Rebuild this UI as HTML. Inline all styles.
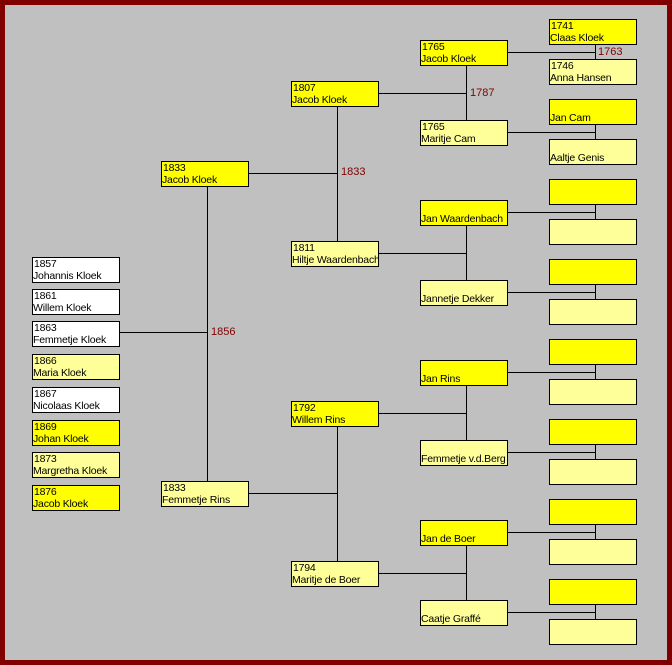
<!DOCTYPE html>
<html><head><meta charset="utf-8"><style>
body{margin:0;width:672px;height:665px;background:#800000;position:relative;overflow:hidden;font-family:"Liberation Sans",sans-serif;font-size:10.5px}
#bg{position:absolute;left:5px;top:5px;width:662px;height:655px;background:#c0c0c0}
.b{position:absolute;width:86px;height:24px;border:1px solid #000;line-height:12px;padding:0 0 0 0;text-indent:1px;box-sizing:content-box;white-space:nowrap;overflow:hidden;color:#000;letter-spacing:-0.2px}
.y{background:#ffff00}.l{background:#ffff99}.w{background:#fff}
.h{position:absolute;height:1px;background:#000}
.v{position:absolute;width:1px;background:#000}
.t{position:absolute;color:#800000;font-size:11px;line-height:12px}
</style></head><body><div id="bg"></div>
<div class="b w" style="left:32px;top:257px">1857<br>Johannis Kloek</div>
<div class="b w" style="left:32px;top:289px">1861<br>Willem Kloek</div>
<div class="b w" style="left:32px;top:321px">1863<br>Femmetje Kloek</div>
<div class="b l" style="left:32px;top:354px">1866<br>Maria Kloek</div>
<div class="b w" style="left:32px;top:387px">1867<br>Nicolaas Kloek</div>
<div class="b y" style="left:32px;top:420px">1869<br>Johan Kloek</div>
<div class="b l" style="left:32px;top:452px">1873<br>Margretha Kloek</div>
<div class="b y" style="left:32px;top:485px">1876<br>Jacob Kloek</div>
<div class="h" style="left:120px;top:332px;width:88px"></div>
<div class="v" style="left:207px;top:187px;height:294px"></div>
<div class="t" style="left:211px;top:326px">1856</div>
<div class="b y" style="left:161px;top:161px">1833<br>Jacob Kloek</div>
<div class="b l" style="left:161px;top:481px">1833<br>Femmetje Rins</div>
<div class="h" style="left:249px;top:173px;width:89px"></div>
<div class="v" style="left:337px;top:107px;height:134px"></div>
<div class="t" style="left:341px;top:166px">1833</div>
<div class="h" style="left:249px;top:493px;width:89px"></div>
<div class="v" style="left:337px;top:427px;height:134px"></div>
<div class="b y" style="left:291px;top:81px">1807<br>Jacob Kloek</div>
<div class="b l" style="left:291px;top:241px">1811<br>Hiltje Waardenbach</div>
<div class="b y" style="left:291px;top:401px">1792<br>Willem Rins</div>
<div class="b l" style="left:291px;top:561px">1794<br>Maritje de Boer</div>
<div class="h" style="left:379px;top:93px;width:88px"></div>
<div class="v" style="left:466px;top:66px;height:54px"></div>
<div class="t" style="left:470px;top:87px">1787</div>
<div class="h" style="left:379px;top:253px;width:88px"></div>
<div class="v" style="left:466px;top:226px;height:54px"></div>
<div class="h" style="left:379px;top:413px;width:88px"></div>
<div class="v" style="left:466px;top:386px;height:54px"></div>
<div class="h" style="left:379px;top:573px;width:88px"></div>
<div class="v" style="left:466px;top:546px;height:54px"></div>
<div class="b y" style="left:420px;top:40px">1765<br>Jacob Kloek</div>
<div class="b l" style="left:420px;top:120px">1765<br>Maritje Cam</div>
<div class="b y" style="left:420px;top:200px"><br>Jan Waardenbach</div>
<div class="b l" style="left:420px;top:280px"><br>Jannetje Dekker</div>
<div class="b y" style="left:420px;top:360px"><br>Jan Rins</div>
<div class="b l" style="left:420px;top:440px"><br>Femmetje v.d.Berg</div>
<div class="b y" style="left:420px;top:520px"><br>Jan de Boer</div>
<div class="b l" style="left:420px;top:600px"><br>Caatje Graffé</div>
<div class="h" style="left:508px;top:52px;width:88px"></div><div class="v" style="left:595px;top:45px;height:14px"></div>
<div class="t" style="left:598px;top:46px">1763</div>
<div class="h" style="left:508px;top:132px;width:88px"></div><div class="v" style="left:595px;top:125px;height:14px"></div>
<div class="h" style="left:508px;top:212px;width:88px"></div><div class="v" style="left:595px;top:205px;height:14px"></div>
<div class="h" style="left:508px;top:292px;width:88px"></div><div class="v" style="left:595px;top:285px;height:14px"></div>
<div class="h" style="left:508px;top:372px;width:88px"></div><div class="v" style="left:595px;top:365px;height:14px"></div>
<div class="h" style="left:508px;top:452px;width:88px"></div><div class="v" style="left:595px;top:445px;height:14px"></div>
<div class="h" style="left:508px;top:532px;width:88px"></div><div class="v" style="left:595px;top:525px;height:14px"></div>
<div class="h" style="left:508px;top:612px;width:88px"></div><div class="v" style="left:595px;top:605px;height:14px"></div>
<div class="b y" style="left:549px;top:19px">1741<br>Claas Kloek</div>
<div class="b l" style="left:549px;top:59px">1746<br>Anna Hansen</div>
<div class="b y" style="left:549px;top:99px"><br>Jan Cam</div>
<div class="b l" style="left:549px;top:139px"><br>Aaltje Genis</div>
<div class="b y" style="left:549px;top:179px"></div>
<div class="b l" style="left:549px;top:219px"></div>
<div class="b y" style="left:549px;top:259px"></div>
<div class="b l" style="left:549px;top:299px"></div>
<div class="b y" style="left:549px;top:339px"></div>
<div class="b l" style="left:549px;top:379px"></div>
<div class="b y" style="left:549px;top:419px"></div>
<div class="b l" style="left:549px;top:459px"></div>
<div class="b y" style="left:549px;top:499px"></div>
<div class="b l" style="left:549px;top:539px"></div>
<div class="b y" style="left:549px;top:579px"></div>
<div class="b l" style="left:549px;top:619px"></div>
</body></html>
